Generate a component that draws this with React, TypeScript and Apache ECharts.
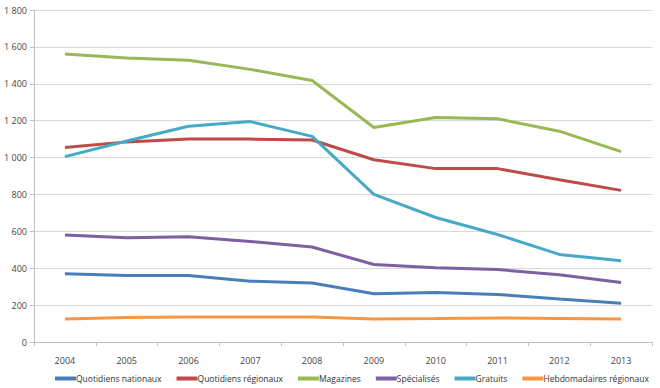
import React, { useEffect, useRef } from "react";
import * as echarts from "echarts";

const years = ["2004", "2005", "2006", "2007", "2008", "2009", "2010", "2011", "2012", "2013"];
const quotidiensNationaux = [370, 360, 360, 330, 320, 262, 268, 258, 233, 210];
const quotidiensRegionaux = [1055, 1085, 1100, 1100, 1095, 988, 940, 940, 880, 822];
const magazines = [1562, 1540, 1528, 1478, 1418, 1163, 1217, 1210, 1143, 1032];
const specialises = [580, 565, 570, 545, 515, 420, 402, 393, 365, 322];
const gratuits = [1005, 1090, 1170, 1195, 1115, 800, 675, 583, 475, 440];
const hebdomadaires = [125, 133, 135, 135, 135, 125, 127, 130, 128, 125];

const seriesNames = [
  "Quotidiens nationaux",
  "Quotidiens régionaux",
  "Magazines",
  "Spécialisés",
  "Gratuits",
  "Hebdomadaires régionaux",
];
const seriesData = [quotidiensNationaux, quotidiensRegionaux, magazines, specialises, gratuits, hebdomadaires];
const colors = ["#4a7ebb", "#be4b48", "#98b954", "#7d60a0", "#46aac5", "#f79646"];

export default function App() {
  const ref = useRef<HTMLDivElement>(null);
  useEffect(() => {
    if (!ref.current) return;
    const chart = echarts.init(ref.current, null, { renderer: "svg" });
    const font = "'Open Sans', 'Liberation Sans', sans-serif";
    chart.setOption({
      animation: false,
      backgroundColor: "#ffffff",
      color: colors,
      textStyle: { fontFamily: font },
      grid: { left: 34, right: 8, top: 10, bottom: 46, containLabel: false },
      legend: {
        left: 50,
        top: 369,
        icon: "rect",
        itemWidth: 21,
        itemHeight: 4,
        itemGap: 15,
        textStyle: { fontSize: 8.5, color: "#333", fontFamily: font, padding: [0, 0, 0, -5] },
        data: seriesNames,
      },
      xAxis: {
        type: "category",
        data: years,
        boundaryGap: true,
        axisLine: { lineStyle: { color: "#bfbfbf" } },
        axisTick: { show: true, length: 4, lineStyle: { color: "#bfbfbf" } },
        axisLabel: { fontSize: 9, color: "#444", margin: 14, fontFamily: font },
      },
      yAxis: {
        type: "value",
        min: 0,
        max: 1800,
        interval: 200,
        axisLine: { show: true, lineStyle: { color: "#bfbfbf" } },
        axisTick: { show: true, length: 4, lineStyle: { color: "#bfbfbf" } },
        splitLine: { lineStyle: { color: "#d9d9d9" } },
        axisLabel: {
          fontSize: 9,
          color: "#444",
          margin: 7,
          fontFamily: font,
          formatter: (v: number) => (v >= 1000 ? Math.floor(v / 1000) + " " + String(v % 1000).padStart(3, "0") : String(v)),
        },
      },
      series: seriesNames.map((name, i) => ({
        name,
        type: "line",
        data: seriesData[i],
        symbol: "none",
        lineStyle: { width: 3, color: colors[i] },
        itemStyle: { color: colors[i] },
      })),
    });
    return () => chart.dispose();
  }, []);
  return <div ref={ref} style={{ width: 660, height: 388, position: "absolute", left: 0, top: 0 }} />;
}
